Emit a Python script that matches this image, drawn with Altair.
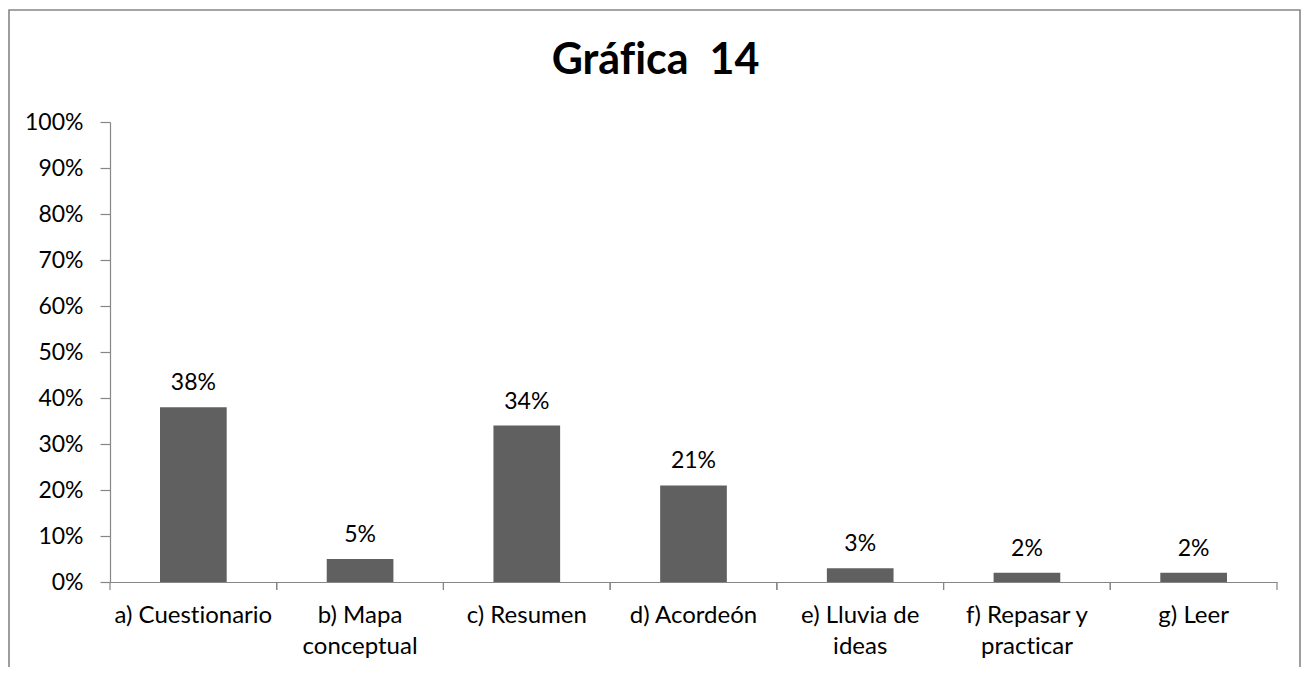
import altair as alt
import pandas as pd

# ---- data ----
label_lines = [
    ["a) Cuestionario"],
    ["b) Mapa", "conceptual"],
    ["c) Resumen"],
    ["d) Acordeón"],
    ["e) Lluvia de", "ideas"],
    ["f) Repasar y", "practicar"],
    ["g) Leer"],
]
values = [0.38, 0.05, 0.34, 0.21, 0.03, 0.02, 0.02]
y_ticks = [0, 0.1, 0.2, 0.3, 0.4, 0.5, 0.6, 0.7, 0.8, 0.9, 1.0]
# zero-width non-joiner keeps "f" and "i" as separate glyphs (no ligature)
title_text = "Gráf\u200cica\u00a0 14"

categories = ["\n".join(l) for l in label_lines]
df = pd.DataFrame({"cat": categories, "val": values})

FONT = "Lato"
FS = 23
AXIS_COLOR = "#868686"
W, H = 1167, 460

x_enc = alt.X(
    "cat:N",
    sort=None,
    scale=alt.Scale(paddingInner=0, paddingOuter=0),
    axis=alt.Axis(
        title=None,
        ticks=False,
        domainColor=AXIS_COLOR,
        domainWidth=1.2,
        labelAngle=0,
        labelFont=FONT,
        labelFontSize=24,
        labelColor="black",
        labelPadding=21,
        labelLineHeight=31,
        # split into lines; a zero-width non-joiner avoids Lato's "ti" ligature
        labelExpr="split(replace(datum.label, 'ti', 't\u200ci'), '\\n')",
    ),
)

bars = alt.Chart(df).mark_bar(color="#606060", width=alt.RelativeBandSize(0.4)).encode(
    x=x_enc,
    y=alt.Y(
        "val:Q",
        scale=alt.Scale(domain=[0, 1]),
        axis=alt.Axis(
            title=None,
            values=y_ticks,
            format=".0%",
            grid=False,
            tickSize=10,
            tickColor=AXIS_COLOR,
            tickWidth=1.2,
            domainColor=AXIS_COLOR,
            domainWidth=1.2,
            labelFont=FONT,
            labelFontSize=FS,
            labelColor="black",
            labelPadding=17,
        ),
    ),
)

texts = alt.Chart(df).mark_text(
    font=FONT, fontSize=FS, color="black", baseline="alphabetic", dy=-17
).encode(
    x=alt.X("cat:N", sort=None),
    y="val:Q",
    text=alt.Text("val:Q", format=".0%"),
)

tick_left = alt.Chart(df).mark_rule(color=AXIS_COLOR, strokeWidth=1.2).encode(
    x=alt.X("cat:N", sort=None, bandPosition=0),
    y=alt.value(H),
    y2=alt.value(H + 8),
)
tick_right = alt.Chart(df).mark_rule(color=AXIS_COLOR, strokeWidth=1.2).encode(
    x=alt.X("cat:N", sort=None, bandPosition=1),
    y=alt.value(H),
    y2=alt.value(H + 8),
)

border = alt.Chart(pd.DataFrame({"b": [0]})).mark_rect(
    fill=None, stroke=AXIS_COLOR, strokeWidth=1.6
).encode(
    x=alt.value(-101),
    x2=alt.value(1190),
    y=alt.value(-112),
    y2=alt.value(H + 120),
)

chart = (
    alt.layer(border, bars, texts, tick_left, tick_right)
    .properties(
        width=W,
        height=H,
        autosize=alt.AutoSizeParams(type="none"),
        padding={"left": 102, "top": 114, "right": 24, "bottom": 85},
        title=alt.TitleParams(
            text=title_text,
            font=FONT,
            fontSize=43,
            fontWeight="bold",
            color="black",
            anchor="middle",
            baseline="alphabetic",
            dx=-38,
            offset=0,
            dy=108,
        ),
    )
    .configure_view(stroke=None)
)

chart.save("out.html", embed_options={"renderer": "svg", "actions": False})
